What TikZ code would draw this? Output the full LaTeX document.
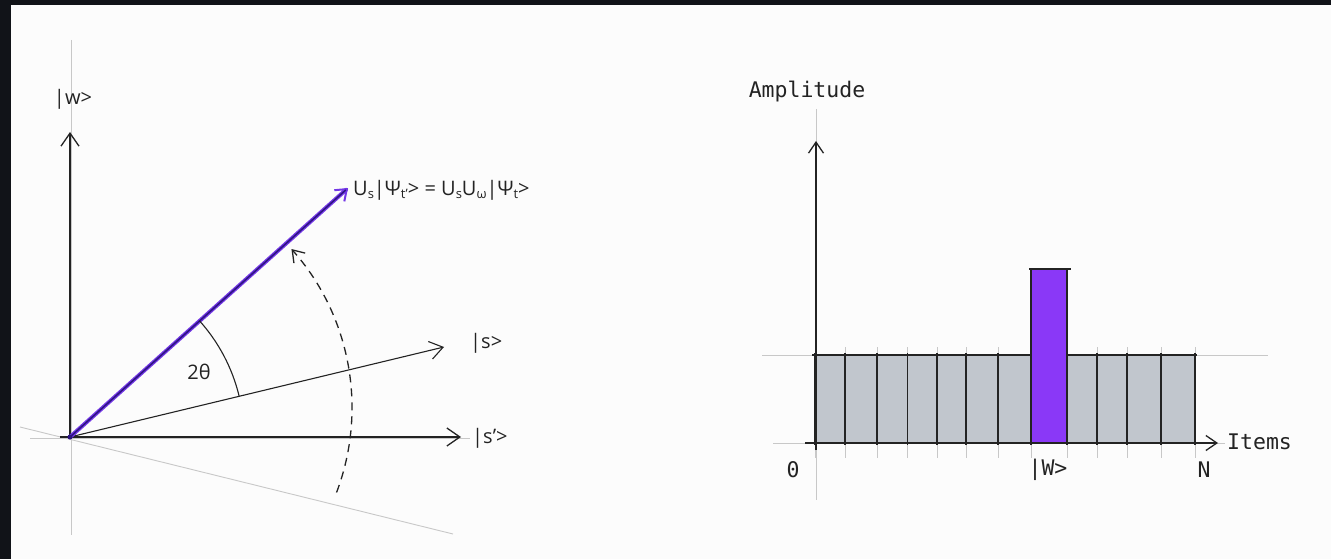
\documentclass[tikz,border=0pt]{standalone}
\usepackage{fontspec}
\setmainfont{Open Sans}
\newfontfamily\monofont{DejaVu Sans Mono}
\usetikzlibrary{arrows.meta}
\definecolor{frame}{RGB}{17,19,24}
\definecolor{paper}{RGB}{252,252,252}
\definecolor{ink}{RGB}{35,35,35}
\definecolor{guide}{RGB}{200,200,200}
\definecolor{vio}{RGB}{115,55,230}
\definecolor{viocore}{RGB}{45,20,130}
\definecolor{barfill}{RGB}{138,56,247}
\definecolor{cellfill}{RGB}{193,198,205}
\newcommand\sbs[1]{\raisebox{-0.35ex}{\fontsize{13}{13}\selectfont #1}}
\begin{document}
\begin{tikzpicture}[x=1pt,y=-1pt,
  guideline/.style={guide, line width=0.9pt},
  axis/.style={ink, line width=1.3pt},
  barb/.style={-{Straight Barb[length=13pt,width=18pt]}},
  smallbarb/.style={-{Straight Barb[length=11pt,width=15pt]}},
  lab/.style={inner sep=0pt, text=ink, font=\fontsize{20}{24}\selectfont},
  mlab/.style={inner sep=0pt, text=ink, font=\monofont\fontsize{21.5}{24}\selectfont},
  cellline/.style={ink, line width=1.3pt},
]
\useasboundingbox (0,0) rectangle (1331,559);
\fill[frame] (0,0) rectangle (1331,559);
\fill[paper] (11,5) rectangle (1331,559);

% ---------- left diagram ----------
\coordinate (O) at (70,437);
\coordinate (gvtop) at (71,40);
\coordinate (gvbot) at (71,535);
\coordinate (ghl) at (30,438);
\coordinate (ghr) at (470,438);
\coordinate (gdl) at (20,427);
\coordinate (gdr) at (453,534);
\draw[guideline] (gvtop) -- (gvbot);
\draw[guideline] (ghl) -- (ghr);
\draw[guideline] (gdl) -- (gdr);

\coordinate (wtip) at (70,132);
\coordinate (sptail) at (60,437);
\coordinate (sptip) at (461,437);
\coordinate (stip) at (444,347);
\coordinate (ptip) at (348,188);

\draw[axis, barb] (O) -- (wtip);
\draw[axis, barb] (sptail) -- (sptip);
\draw[axis, line width=1.1pt, barb] (O) -- (stip);

\draw[vio, line width=4pt, line cap=round, -{Straight Barb[length=10pt,width=15pt,line width=2pt]}] (O) -- (ptip);
\draw[viocore, line width=1.5pt, shorten >=3pt] (O) -- (ptip);
\fill[viocore] (O) circle (2.5pt);

% angle 2theta
\draw[ink, line width=1.1pt] (O) ++(-13.5:174) arc[start angle=-13.5, end angle=-41.9, radius=174];
% dashed rotation arc
\coordinate (C) at (113,408);
\draw[axis, dash pattern=on 8pt off 6pt, smallbarb] (C) ++(20.7:239) arc[start angle=20.7, end angle=-41.7, radius=239];

\node[lab] (wlab) at (73,99) {|w>};
\node[lab, anchor=west] (splab) at (472,438) {|s’>};
\node[lab, anchor=west] (slab) at (470,343) {|s>};
\node[lab] (anglab) at (199,372) {2θ};
\node[lab, anchor=west] (plab) at (353,190) {U\sbs{s}|Ψ\sbs{t’}> = U\sbs{s}U\sbs{ω}|Ψ\sbs{t}>};

% ---------- right diagram ----------
\coordinate (avtop) at (816,109);
\coordinate (avbot) at (816,500);
\coordinate (ihl) at (773,443);
\coordinate (ihr) at (1225,443);
\coordinate (ahl) at (762,355);
\coordinate (ahr) at (1268,355);
\draw[guideline] (avtop) -- (avbot);
\draw[guideline] (ihl) -- (ihr);
\draw[guideline] (ahl) -- (ahr);

\fill[cellfill] (815,355) rectangle (1195,443);
\fill[barfill] (1031,269) rectangle (1067,443);

\foreach \x in {815,845,877,907.5,937,966,998,1031,1067,1097,1127,1161,1195}{
  \draw[guideline] (\x,347) -- (\x,458);
  \draw[cellline] (\x,353) -- (\x,445);
}
\draw[cellline] (812,355) -- (1031,355);
\draw[cellline] (1067,355) -- (1197,355);
\draw[cellline] (1031,355) -- (1031,269);
\draw[cellline] (1067,355) -- (1067,269);
\draw[cellline] (1029,269) -- (1071,269);

\coordinate (itail) at (805,443);
\coordinate (itip) at (1218,443);
\coordinate (atail) at (816,450);
\coordinate (atip) at (816,141);
\draw[axis, smallbarb] (itail) -- (itip);
\draw[axis, smallbarb] (atail) -- (atip);

\node[mlab] (amp) at (807,92) {Amplitude};
\node[mlab, anchor=west] (items) at (1227,442) {Items};
\node[mlab] (zero) at (793,470) {0};
\node[mlab] (wket) at (1048,470) {|W>};
\node[mlab] (nlab) at (1204,470) {N};
\end{tikzpicture}
\end{document}
